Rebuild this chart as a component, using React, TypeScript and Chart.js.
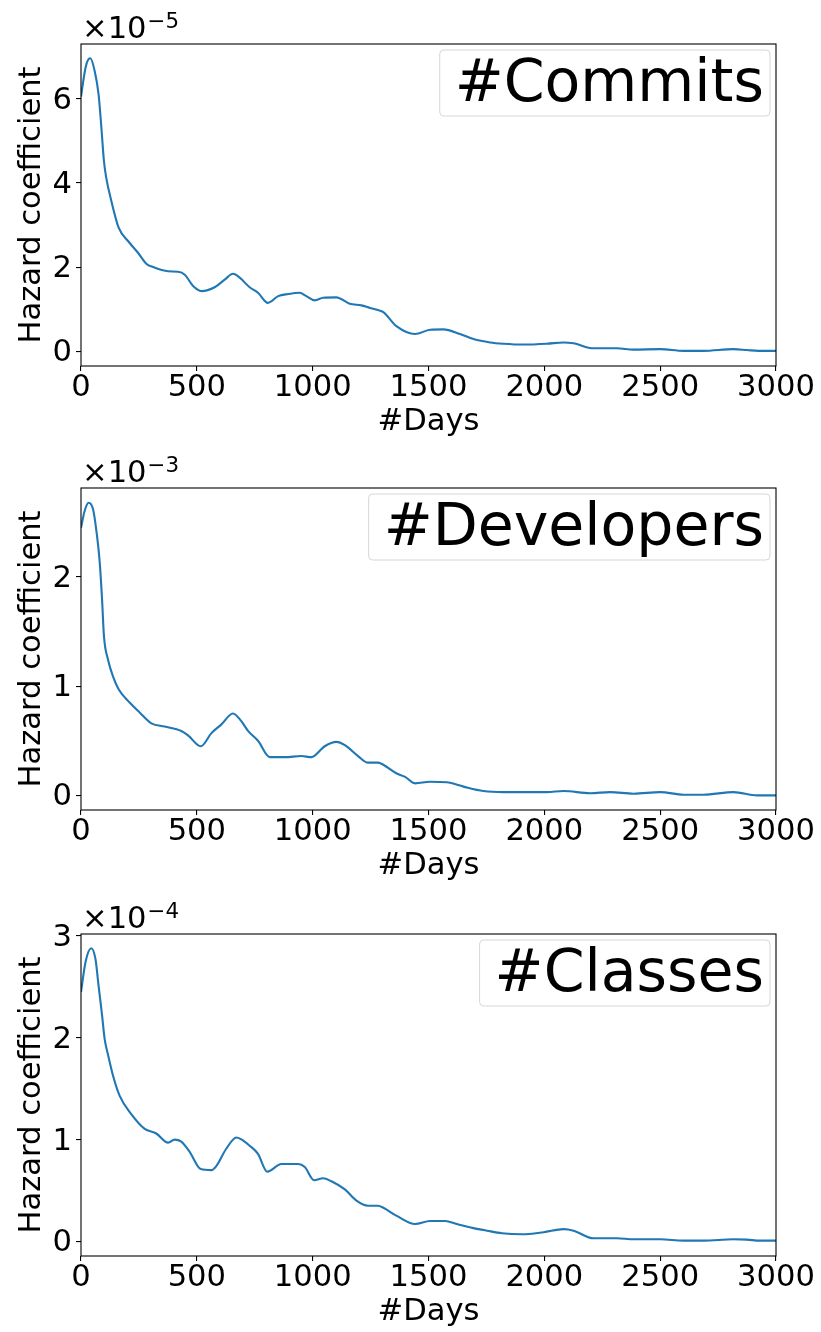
import React, { useEffect, useRef } from 'react';
import { Chart, registerables } from 'chart.js';

Chart.register(...registerables);

const FONT_FAMILY = '"DejaVu Sans", "Liberation Sans", sans-serif';
const TICK_SIZE = 30.6;
const LEGEND_SIZE = 58.5;

const xTicks = [0, 500, 1000, 1500, 2000, 2500, 3000];

// #Commits (values in units of 1e-5)
const commitsDays = [0, 15, 25, 40, 59, 76, 88, 99, 109, 131, 163, 203, 246, 282, 311, 376, 419, 448, 484, 520, 577, 620, 656, 685, 728, 764, 807, 851, 894, 944, 973, 1009, 1045, 1102, 1160, 1210, 1247, 1282, 1305, 1363, 1442, 1507, 1564, 1636, 1694, 1766, 1823, 1910, 2011, 2083, 2126, 2212, 2313, 2385, 2500, 2601, 2687, 2817, 2874, 2924, 3000];
const commitsHazard = [6.05, 6.6, 6.85, 6.96, 6.66, 6.1, 5.31, 4.52, 4.12, 3.57, 2.93, 2.62, 2.34, 2.08, 2.0, 1.9, 1.89, 1.82, 1.55, 1.43, 1.52, 1.7, 1.84, 1.75, 1.52, 1.39, 1.15, 1.31, 1.36, 1.39, 1.31, 1.21, 1.27, 1.28, 1.13, 1.09, 1.03, 0.98, 0.93, 0.59, 0.41, 0.51, 0.52, 0.41, 0.29, 0.21, 0.18, 0.16, 0.18, 0.21, 0.19, 0.07, 0.07, 0.04, 0.05, 0.01, 0.01, 0.05, 0.03, 0.01, 0.01];
const commitsTicks = [0, 2, 4, 6];

// #Developers (values in units of 1e-3)
const developersDays = [0, 15, 33, 52, 66, 81, 91, 99, 117, 138, 163, 210, 253, 304, 361, 433, 462, 517, 563, 606, 656, 692, 721, 764, 815, 880, 951, 994, 1052, 1102, 1139, 1196, 1239, 1282, 1305, 1363, 1399, 1442, 1507, 1579, 1651, 1737, 1823, 2011, 2083, 2198, 2284, 2385, 2500, 2601, 2687, 2817, 2918, 3000];
const developersHazard = [2.45, 2.6, 2.68, 2.62, 2.43, 2.13, 1.79, 1.46, 1.24, 1.09, 0.97, 0.85, 0.76, 0.66, 0.63, 0.59, 0.55, 0.45, 0.57, 0.65, 0.75, 0.68, 0.59, 0.5, 0.35, 0.35, 0.36, 0.35, 0.45, 0.49, 0.46, 0.36, 0.3, 0.3, 0.28, 0.2, 0.17, 0.11, 0.125, 0.12, 0.08, 0.04, 0.03, 0.03, 0.04, 0.02, 0.03, 0.015, 0.03, 0.006, 0.006, 0.03, 0.0, 0.0];
const developersTicks = [0, 1, 2];

// #Classes (values in units of 1e-4)
const classesDays = [0, 20, 44, 62, 76, 91, 102, 117, 138, 167, 217, 275, 325, 376, 404, 433, 469, 517, 563, 584, 627, 671, 700, 728, 764, 804, 865, 937, 966, 1006, 1045, 1081, 1139, 1189, 1239, 1282, 1305, 1363, 1442, 1507, 1572, 1622, 1694, 1752, 1817, 1904, 1997, 2083, 2126, 2212, 2313, 2385, 2500, 2601, 2687, 2817, 2874, 2931, 3000];
const classesHazard = [2.45, 2.75, 2.88, 2.78, 2.51, 2.22, 1.99, 1.83, 1.63, 1.43, 1.25, 1.105, 1.06, 0.97, 1.0, 0.98, 0.88, 0.71, 0.7, 0.74, 0.91, 1.02, 0.99, 0.94, 0.86, 0.685, 0.76, 0.76, 0.73, 0.6, 0.62, 0.59, 0.51, 0.4, 0.35, 0.35, 0.33, 0.25, 0.17, 0.2, 0.2, 0.17, 0.13, 0.105, 0.08, 0.07, 0.09, 0.12, 0.105, 0.03, 0.03, 0.02, 0.02, 0.007, 0.007, 0.02, 0.017, 0.007, 0.007];
const classesTicks = [0, 1, 2, 3];

const panelLabels = ['#Commits', '#Developers', '#Classes'];
const panelExponents = ['\u22125', '\u22123', '\u22124'];
const panelYMin = [-0.35, -0.134, -0.144];
const panelYMax = [7.3, 2.815, 3.02];

const CANVAS_W = 821;
const CANVAS_H = 442;
const PANEL_TOPS = [0, 444, 890];

type PanelProps = {
  label: string;
  exponent: string;
  days: number[];
  values: number[];
  yTicks: number[];
  yMin: number;
  yMax: number;
  top: number;
};

function Panel({ label, exponent, days, values, yTicks, yMin, yMax, top }: PanelProps) {
  const ref = useRef<HTMLCanvasElement | null>(null);

  useEffect(() => {
    const canvas = ref.current;
    if (!canvas) return;

    const decor = {
      id: 'decor',
      afterDraw(chart: any) {
        const ctx = chart.ctx as CanvasRenderingContext2D;
        const a = chart.chartArea;
        ctx.save();
        // frame
        ctx.strokeStyle = '#000';
        ctx.lineWidth = 1.1;
        ctx.strokeRect(a.left, a.top, a.right - a.left, a.bottom - a.top);

        ctx.fillStyle = '#000';
        ctx.textBaseline = 'alphabetic';
        // offset text
        ctx.textAlign = 'left';
        ctx.font = `${TICK_SIZE}px ${FONT_FAMILY}`;
        const offX = a.left + 1;
        ctx.fillText('\u00d710', offX, a.top - 6);
        const w = ctx.measureText('\u00d710').width;
        ctx.font = `${TICK_SIZE * 0.7}px ${FONT_FAMILY}`;
        ctx.fillText(exponent, offX + w + 1, a.top - 16);

        // axis titles
        ctx.font = `${TICK_SIZE}px ${FONT_FAMILY}`;
        ctx.textAlign = 'center';
        ctx.fillText('#Days', (a.left + a.right) / 2, a.bottom + 64);
        ctx.save();
        ctx.translate(40, (a.top + a.bottom) / 2);
        ctx.rotate(-Math.PI / 2);
        ctx.fillText('Hazard coefficient', 0, 0);
        ctx.restore();

        // legend box
        ctx.font = `${LEGEND_SIZE}px ${FONT_FAMILY}`;
        const tw = ctx.measureText(label).width;
        const boxRight = a.right - 6;
        const boxTop = a.top + 6;
        const boxH = 66;
        const textRight = boxRight - 6;
        const boxLeft = textRight - tw - 15;
        ctx.beginPath();
        ctx.roundRect(boxLeft, boxTop, boxRight - boxLeft, boxH, 4);
        ctx.fillStyle = 'rgba(255,255,255,0.8)';
        ctx.fill();
        ctx.strokeStyle = '#d6d6d6';
        ctx.lineWidth = 1;
        ctx.stroke();
        ctx.fillStyle = '#000';
        ctx.textAlign = 'right';
        ctx.fillText(label, textRight, boxTop + 51);
        ctx.restore();
      },
    };

    const tickFont = { family: FONT_FAMILY, size: TICK_SIZE, lineHeight: 1 };

    const chart = new Chart(canvas, {
      type: 'line',
      data: {
        datasets: [
          {
            label,
            data: days.map((d, i) => ({ x: d, y: values[i] })),
            borderColor: '#1f77b4',
            borderWidth: 2.1,
            pointRadius: 0,
            fill: false,
            cubicInterpolationMode: 'monotone',
          },
        ],
      },
      options: {
        responsive: false,
        animation: false,
        devicePixelRatio: 1,
        layout: { padding: { top: 44, right: 45, bottom: 0, left: 0 } },
        plugins: {
          legend: { display: false },
          tooltip: { enabled: false },
        },
        scales: {
          x: {
            type: 'linear',
            min: 0,
            max: 3000,
            afterFit: (s: any) => {
              s.height = CANVAS_H - 366;
            },
            afterBuildTicks: (s: any) => {
              s.ticks = xTicks.map((v) => ({ value: v }));
            },
            ticks: {
              autoSkip: false,
              maxRotation: 0,
              minRotation: 0,
              color: '#000',
              font: tickFont,
              padding: 2,
              callback: (v: any) => String(v),
            },
            grid: {
              drawOnChartArea: false,
              drawTicks: true,
              tickLength: 5,
              color: '#000',
              lineWidth: 1.1,
            },
            border: { display: false },
          },
          y: {
            type: 'linear',
            min: yMin,
            max: yMax,
            afterFit: (s: any) => {
              s.width = 81;
            },
            afterBuildTicks: (s: any) => {
              s.ticks = yTicks.map((v) => ({ value: v }));
            },
            ticks: {
              autoSkip: false,
              color: '#000',
              font: tickFont,
              padding: 4,
              labelOffset: 2,
              callback: (v: any) => String(v),
            },
            grid: {
              drawOnChartArea: false,
              drawTicks: true,
              tickLength: 5,
              color: '#000',
              lineWidth: 1.1,
            },
            border: { display: false },
          },
        },
      },
      plugins: [decor],
    } as any);

    return () => chart.destroy();
  }, [label, exponent, days, values, yTicks, yMin, yMax]);

  return (
    <canvas
      ref={ref}
      width={CANVAS_W}
      height={CANVAS_H}
      style={{ position: 'absolute', left: 0, top, width: CANVAS_W, height: CANVAS_H, display: 'block' }}
    />
  );
}

export default function App() {
  const series = [
    { days: commitsDays, values: commitsHazard, ticks: commitsTicks },
    { days: developersDays, values: developersHazard, ticks: developersTicks },
    { days: classesDays, values: classesHazard, ticks: classesTicks },
  ];
  return (
    <div style={{ position: 'absolute', left: 0, top: 0, width: CANVAS_W, height: 1332, background: '#fff', overflow: 'hidden' }}>
      {series.map((s, i) => (
        <Panel
          key={panelLabels[i]}
          label={panelLabels[i]}
          exponent={panelExponents[i]}
          days={s.days}
          values={s.values}
          yTicks={s.ticks}
          yMin={panelYMin[i]}
          yMax={panelYMax[i]}
          top={PANEL_TOPS[i]}
        />
      ))}
    </div>
  );
}
